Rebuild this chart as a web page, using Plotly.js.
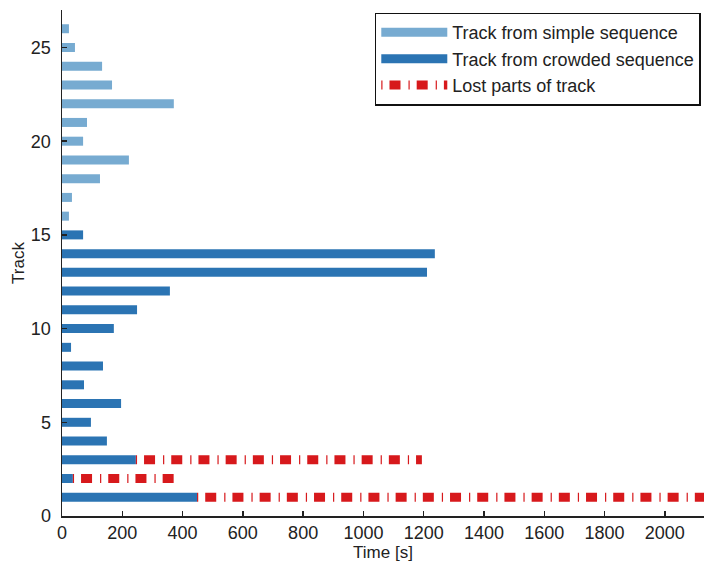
<!DOCTYPE html>
<html>
<head>
<meta charset="utf-8">
<script src="https://cdn.plot.ly/plotly-3.0.1.min.js"></script>
<style>html,body{margin:0;padding:0;background:#fff;}#chart{width:704px;height:564px;}</style>
</head>
<body>
<div id="chart"></div>
<script>
// Tracks from the simple sequence and their durations (s)
const simpleTracks = [16, 17, 18, 19, 20, 21, 22, 23, 24, 25, 26];
const simpleTimes  = [23, 33, 126, 222, 70, 83, 371, 166, 133, 43, 23];
// Tracks from the crowded sequence and their durations (s)
const crowdedTracks = [1, 2, 3, 4, 5, 6, 7, 8, 9, 10, 11, 12, 13, 14, 15];
const crowdedTimes  = [448, 36, 245, 149, 96, 196, 73, 136, 30, 172, 249, 358, 1211, 1237, 70];
// Lost parts of tracks: start and end times (s)
const lostTracks = [1, 2, 3];
const lostStart  = [448, 36, 245];
const lostEnd    = [2140, 371, 1194];

const xTicks = [0, 200, 400, 600, 800, 1000, 1200, 1400, 1600, 1800, 2000];
const yTicks = [0, 5, 10, 15, 20, 25];

function segments(tracks, starts, ends) {
  const x = [], y = [];
  for (let i = 0; i < tracks.length; i++) {
    x.push(starts[i], ends[i], null);
    y.push(tracks[i], tracks[i], null);
  }
  return {x, y};
}

const sSeg = segments(simpleTracks, simpleTracks.map(() => 0), simpleTimes);
const cSeg = segments(crowdedTracks, crowdedTracks.map(() => 0), crowdedTimes);
const lSeg = segments(lostTracks, lostStart, lostEnd);

const traces = [
  {x: sSeg.x, y: sSeg.y, mode: 'lines', name: 'Track from simple sequence',
   line: {color: '#77abd1', width: 9}, connectgaps: false, hoverinfo: 'x+y'},
  {x: cSeg.x, y: cSeg.y, mode: 'lines', name: 'Track from crowded sequence',
   line: {color: '#2b74b3', width: 9}, connectgaps: false, hoverinfo: 'x+y'},
  {x: lSeg.x, y: lSeg.y, mode: 'lines', name: 'Lost parts of track',
   line: {color: '#d7191c', width: 9, dash: '1.2px,7px,11px,8px'}, connectgaps: false, hoverinfo: 'x+y'}
];

const layout = {
  width: 704, height: 564,
  margin: {l: 62, r: 0, t: 10, b: 48},
  paper_bgcolor: '#fff', plot_bgcolor: '#fff',
  font: {family: 'Liberation Sans, Arial, sans-serif', size: 18, color: '#222'},
  showlegend: true,
  legend: {x: 0.995, xanchor: 'right', y: 0.995, yanchor: 'top',
           bgcolor: '#fff', bordercolor: '#111', borderwidth: 1.5,
           font: {size: 18, color: '#222'}, tracegroupgap: 0, itemwidth: 66},
  xaxis: {
    range: [0, 2130], tickvals: xTicks, ticktext: xTicks.map(String),
    ticks: 'inside', ticklen: 5, tickcolor: '#222', tickwidth: 1.5,
    showline: true, linecolor: '#222', linewidth: 1.5, showgrid: false, zeroline: false,
    mirror: false,
    title: {text: 'Time [s]', font: {size: 17}, standoff: 1},
    tickfont: {size: 18}
  },
  yaxis: {
    range: [0, 27], tickvals: yTicks, ticktext: yTicks.map(String),
    ticks: 'inside', ticklen: 5, tickcolor: '#222', tickwidth: 1.5,
    showline: true, linecolor: '#222', linewidth: 1.5, showgrid: false, zeroline: false,
    ticklabelstandoff: 6,
    title: {text: 'Track', font: {size: 17}, standoff: 2},
    tickfont: {size: 18}
  }
};

Plotly.newPlot('chart', traces, layout, {staticPlot: true, displayModeBar: false});
</script>
</body>
</html>
